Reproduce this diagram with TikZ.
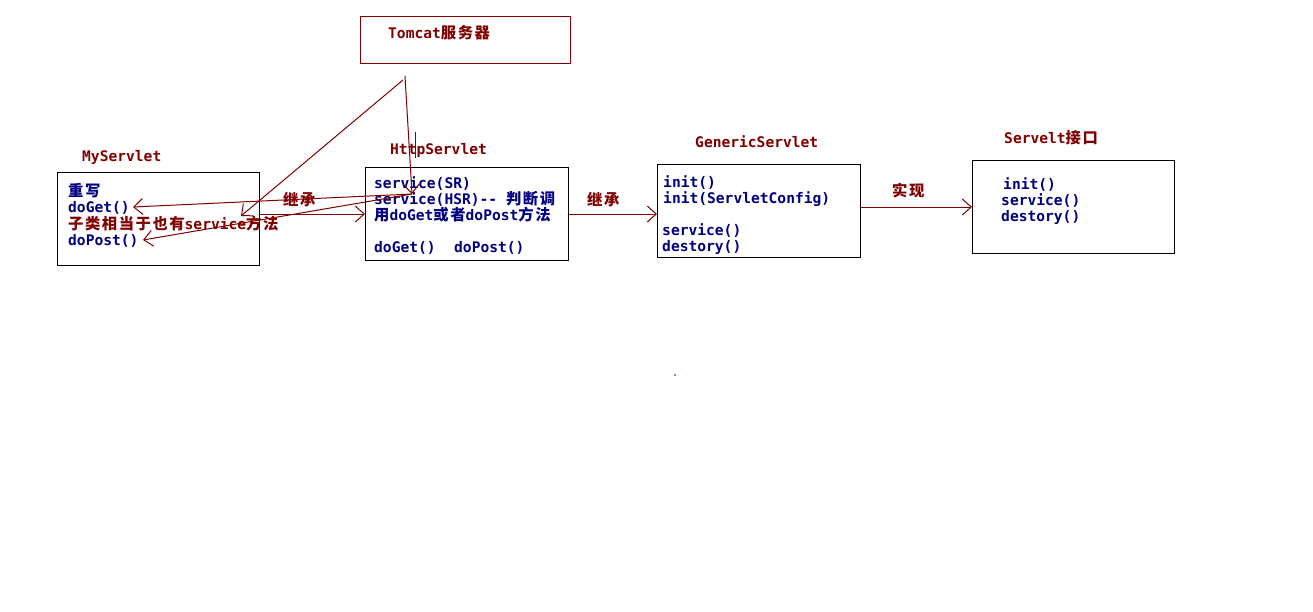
\documentclass[tikz,border=0pt]{standalone}
\usepackage{fontspec}
\setmonofont{DejaVu Sans Mono}
\newfontfamily\cjkfont[Scale=1.05,LetterSpace=10]{Noto Sans CJK SC}
\newcommand\hz[1]{{\cjkfont #1}}
\usetikzlibrary{arrows.meta}
\definecolor{navy}{HTML}{000080}
\definecolor{maroon}{HTML}{800000}

\begin{document}
\begin{tikzpicture}[x=1pt,y=-1pt,
  txt/.style={anchor=base west,inner sep=0pt,
    font=\fontsize{14.6pt}{16pt}\selectfont\ttfamily\bfseries},
  body/.style={txt,text=navy},
  title/.style={txt,text=maroon},
  classbox/.style={draw=black,line width=1pt,inner sep=0pt,anchor=north west,
    minimum width=202pt,minimum height=93pt},
  link/.style={draw=maroon,line width=1pt,-{Straight Barb[length=9pt,width=16pt]}},
  ]
\fill[white] (0,0) rectangle (1313,611);
\useasboundingbox (0,0) rectangle (1313,611);

% boxes
\node[classbox,draw=maroon,minimum width=210pt,minimum height=47pt] (tc) at (360,16) {};
\node[classbox] (my) at (57,172) {};
\node[classbox,minimum width=203pt] (hs) at (365,167) {};
\node[classbox,minimum width=203pt] (gs) at (657,164) {};
\node[classbox] (sv) at (972,160) {};

% stray stroke over the HttpServlet title
\coordinate (s1) at (415,132);
\coordinate (s2) at (415,158);
\draw[maroon,line width=1pt] (s1) -- (s2);

% titles
\node[title] (tcT) at (388,38) {Tomcat\hz{服务器}};
\node[title] (myT) at (82,161) {MyServlet};
\node[title] (hsT) at (390,154) {HttpServlet};
\node[title] (gsT) at (695,147) {GenericServlet};
\node[title] (svT) at (1004,143) {Servelt\hz{接口}};

% MyServlet
\node[body] (my1) at (68,196) {\hz{重写}};
\node[body] (my2) at (68,212) {doGet()};
\node[title] (my3) at (68,229) {\hz{子类相当于也有}service\hz{方法}};
\node[body] (my4) at (68,245) {doPost()};

% HttpServlet
\node[body] (hs1) at (374,188) {service(SR)};
\node[body] (hs2) at (374,204) {service(HSR)-- \hz{判断调}};
\node[body] (hs3) at (374,220) {\hz{用}doGet\hz{或者}doPost\hz{方法}};
\node[body] (hs4) at (374,252) {doGet()};
\node[body] (hs5) at (454,252) {doPost()};

% GenericServlet
\node[body] (gs1) at (663,187) {init()};
\node[body] (gs2) at (663,203) {init(ServletConfig)};
\node[body] (gs3) at (662,235) {service()};
\node[body] (gs4) at (662,251) {destory()};

% Servlet interface
\node[body] (sv1) at (1003,189) {init()};
\node[body] (sv2) at (1001,205) {service()};
\node[body] (sv3) at (1001,221) {destory()};

% connectors
\coordinate (tcOut) at (405,76);
\coordinate (tcOut2) at (403,80);
\coordinate (hsrIn) at (412,194);
\coordinate (myIn) at (241,216);
\coordinate (getTip) at (133,207);
\coordinate (postTip) at (143,240);

\draw[link] (tcOut) -- (hsrIn);
\draw[link] (tcOut2) -- (myIn);
\draw[link] (hsrIn) -- (getTip);
\draw[link] (hsrIn) -- (postTip);
\draw[link] (my.east |- hs.west) -- (hs.west);
\draw[link] (hs.east) -- (hs.east -| gs.west);
\draw[link] (gs.east |- sv.west) -- (sv.west);

% edge labels
\node[title] (l1) at (283,205) {\hz{继承}};
\node[title] (l2) at (587,205) {\hz{继承}};
\node[title] (l3) at (892,196) {\hz{实现}};

% speck
\coordinate (dot) at (675,375);
\fill[maroon] (dot) circle (0.8pt);
\end{tikzpicture}
\end{document}
